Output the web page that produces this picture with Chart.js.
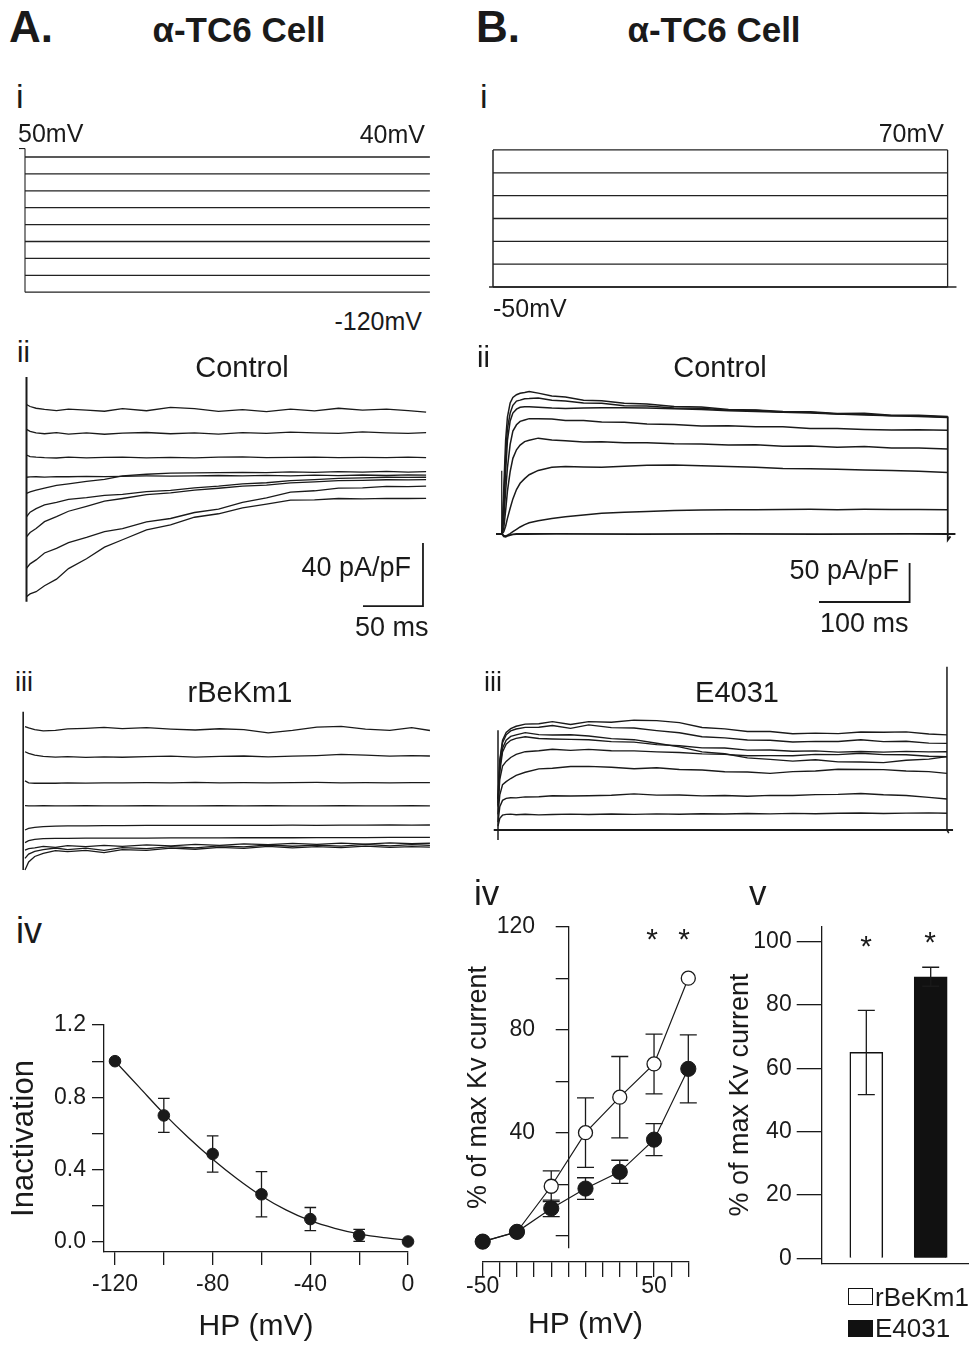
<!DOCTYPE html>
<html>
<head>
<meta charset="utf-8">
<script src="https://cdn.jsdelivr.net/npm/chart.js@4.4.1/dist/chart.umd.min.js"></script>
<style>
html,body{margin:0;padding:0;background:#fff;}
#fig{position:relative;width:974px;height:1345px;overflow:hidden;background:#fff;}
canvas{position:absolute;}
</style>
</head>
<body>
<div id="fig"></div>
<script>
// ===================== DATA =====================
// A-i protocol (mV), ms
const protoA_levels = [40, 20, 0, -20, -40, -60, -80, -100, -120];
const protoA_t = [0, 336];
const protoA_vertT = [0, 0], protoA_vertV = [50, -120];
const protoA_tickT = [-5, 0], protoA_tickV = [50, 50];
// B-i protocol
const protoB_levels = [70, 50, 30, 10, -10, -30, -50];
const protoB_t = [0, 492];
const protoB_baseT = [-4.3, 501.6];

// A-ii Control traces (pA/pF vs ms)
const tA = [0,3,8,15,25,35,50,65,80,100,120,140,160,180,200,220,240,260,280,300,318,333];
const ctrlA1 = [130.5,129.2,128.1,127.4,126.6,127.6,126.9,126.2,127.8,126.5,128.6,127.9,126.1,127.2,125.9,127.6,126.4,128.1,126.9,127.6,126.6,125.6];
const ctrlA2 = [114.7,113.4,112.5,111.9,112.6,111.7,112.4,111.6,112.3,112.7,111.9,112.5,111.7,112.6,112.1,112.9,112.4,112.1,113.1,112.5,112.2,112.6];
const ctrlA3 = [98.4,97.4,97.0,96.7,96.5,97.0,96.6,96.9,97.1,96.6,96.9,96.6,97.0,97.2,96.8,96.9,97.1,96.7,96.9,96.8,97.1,96.8];
const ctrlA4 = [84.3,84.5,84.6,84.4,84.7,84.6,84.9,84.7,84.9,85.1,85.0,85.1,85.4,85.1,85.5,85.2,85.6,85.3,85.7,85.4,85.8,85.6];
const ctrlA5 = [74.1,75.0,76.1,77.4,79.1,80.1,81.7,82.9,85.1,86.2,86.9,87.1,87.2,87.4,87.2,87.7,87.4,87.9,87.5,88.0,87.6,87.8];
const ctrlA6 = [59.2,62.1,64.4,66.7,68.3,70.2,71.3,72.8,73.4,75.1,76.0,77.6,78.6,80.1,80.8,82.1,82.8,83.6,83.9,84.3,84.2,84.3];
const ctrlA7 = [46.5,49.2,51.8,56.1,59.3,62.7,65.8,69.1,70.8,73.2,74.3,76.1,77.3,78.7,79.3,80.7,81.3,82.1,82.3,82.7,82.6,82.8];
const ctrlA8 = [26.5,29.3,31.8,36.2,39.1,42.8,46.1,49.8,51.6,55.9,58.1,61.9,64.1,68.3,71.2,74.8,75.7,77.4,77.6,78.5,78.3,78.7];
const ctrlA9 = [8.5,10.2,11.6,15.4,19.6,26.3,32.5,39.9,44.6,50.9,54.1,58.9,61.1,64.9,67.2,69.8,69.9,70.8,70.6,70.9,70.8,70.9];
const transA_t = [0, 0], transA_v = [148, 5.3];
const scaleA_t = [280.4, 330.4, 330.4], scaleA_v = [2.5, 2.5, 42.5]; // 50 ms, 40 pA/pF

// A-iii rBeKm1 traces
const rbkA1 = [86.0,85.1,84.0,83.3,83.6,84.5,84.9,85.5,84.7,85.3,84.4,83.8,84.6,84.1,82.0,83.6,85.6,86.1,84.4,83.6,85.3,83.5];
const rbkA2 = [70.0,69.0,67.8,67.0,66.6,66.9,66.4,66.8,66.5,66.9,67.2,66.6,67.0,67.3,66.8,67.2,67.6,68.3,67.9,67.2,67.5,67.3];
const rbkA3 = [51.5,50.3,50.0,50.1,50.0,50.2,50.1,50.3,50.2,50.4,50.3,50.5,50.3,50.4,50.3,50.4,50.5,50.3,50.4,50.3,50.4,50.4];
const rbkA4 = [35.8,35.6,35.6,35.7,35.6,35.6,35.7,35.6,35.6,35.7,35.6,35.6,35.7,35.6,35.7,35.6,35.6,35.7,35.6,35.6,35.7,35.6];
const rbkA5 = [20.3,21.3,22.0,22.5,22.8,23.0,23.0,23.1,23.1,23.2,23.2,23.3,23.2,23.3,23.3,23.4,23.3,23.4,23.4,23.5,23.4,23.5];
const rbkA6 = [12.3,13.5,14.4,14.8,15.0,15.0,15.1,15.1,15.2,15.2,15.3,15.3,15.3,15.4,15.4,15.4,15.5,15.5,15.5,15.6,15.6,15.6];
const rbkA7 = [7.6,8.5,9.0,9.9,9.3,10.4,9.7,10.6,9.9,10.9,10.3,11.2,10.6,11.5,11.0,11.8,11.2,12.0,11.4,12.1,11.6,11.9];
const rbkA8 = [2.3,5.0,6.8,7.8,8.9,7.9,8.8,7.4,9.1,8.5,9.8,9.0,10.3,9.6,10.8,10.0,10.7,10.1,11.2,10.3,11.0,10.6];
const rbkA9 = [-5.1,0.0,3.5,5.5,7.2,6.6,7.4,6.0,7.9,7.4,8.8,8.1,9.3,8.7,9.9,9.0,9.7,9.1,10.1,9.3,9.8,9.5];
const transA3_t = [-1.5, -1.5], transA3_v = [95.4, -5.1];

// B-ii Control traces
const tB = [0,2,4,6,9,12,16,20,25,30,40,55,70,90,110,135,160,190,220,250,280,310,340,370,400,430,460,492];
const ctrlB1 = [0,60,120,150,168,175,178.5,180.5,181.5,182.8,180.6,176.8,175.7,171.6,170.8,167.5,166.6,163.5,162.7,159.6,159.1,157.0,156.7,154.6,154.9,152.1,152.3,150.5];
const ctrlB2 = [0,45,100,135,155,165,170.4,171.6,173.5,173.6,174.5,171.4,170.6,167.9,167.6,164.5,164.1,161.4,161.2,158.5,158.6,156.0,156.1,154.0,153.6,151.6,151.5,149.6];
const ctrlB3 = [0,30,80,120,145,155,160,162.5,163,163.2,162.5,161.5,161,161.5,162,162,161.5,160.5,159.5,158,157,156,155,154,152.5,151.5,150.5,149.5];
const ctrlB4 = [0,20,55,85,115,132,140,144.4,146.1,147.9,147.6,147.4,145.6,145.4,143.6,143.4,141.1,140.4,138.6,138.9,137.6,137.4,135.1,135.4,134.1,133.4,133.7,133];
const ctrlB5 = [0,8,30,55,80,97,108,114,118.4,120.1,122.9,120.6,119.4,118.1,118.4,117.1,116.9,115.6,115.4,114.1,114.4,112.6,112.9,111.1,112.3,110.2,110.3,109];
const ctrlB6 = [0,3,10,20,33,45,57,65,71,76,81.5,85.5,86.5,86,85.5,87,88,88.5,87.5,86.5,85.5,84,83.5,83,82,81.5,80.5,79];
const ctrlB7 = [0,-2,-2.5,-1.5,0.5,3,6,9,12,14.5,17,20,22,24.5,26.5,28,29,30,30.8,31.2,31,31.4,31.6,31.2,31.6,31.3,31.5,31.2];
const baseB_t = [-6.6,0,2,4,6,9,12,16,25,60,150,250,350,450,492,500.5];
const baseB_v = [0,0,-3,-3.5,-2.5,-1.5,-0.5,0,0,0.2,-0.2,0.2,-0.1,0.1,0,0];
const startB_t = [-0.3, -0.3], startB_v = [0, 81];
const endB_t = [492, 492, 495], endB_v = [150.5, -7.7, -3];
const scaleB_t = [349.9, 449.9, 449.9], scaleB_v = [-87.2, -87.2, -37.2]; // 100 ms, 50 pA/pF

// B-iii E4031 traces
const tB3 = [0,2,5,9,14,20,30,45,60,80,100,125,150,175,200,225,250,275,300,325,350,375,400,425,450,475,495];
const e4031_1 = [5,15,19,20,20.4,19.6,20.2,19.4,19.9,20.4,19.8,20.5,20,20.7,20.2,20.9,20.5,21.1,20.7,21.3,20.9,21.5,21.7,21.1,21.6,21.9,21.4];
const e4031_2 = [10,30,38,40.5,41.3,41.2,42.4,42.6,43.9,43.6,43.9,44.6,46.3,44.7,44.9,43.7,44.2,43.2,44.4,44.2,45.4,45.7,46.8,45.2,44.3,41.8,39.7];
const e4031_3 = [20,45,58,62,66,70,74,78.4,79.1,81.4,81.6,80.4,78.6,79.9,77.6,76.9,74.6,74.4,72.6,74.9,75.6,77.9,77.6,77.4,75.6,74.9,72.6];
const e4031_4 = [30,65,82,88,93,97,100.4,101.6,103.5,102.1,103.4,101.6,101.4,100.1,99.4,97.6,96.9,95.1,95.4,95.1,96.9,96.6,98.4,96.6,96.4,94.6,94];
const e4031_5 = [40,90,115,125,130,133,135.8,136.3,138.9,135.2,138.9,138.2,140.8,140.2,137.6,131.4,129.7,126.3,126.2,123.4,124.2,123.5,125.6,125.4,125.8,123.1,122];
const e4031_6 = [40,88,112,122,127,129.5,131.6,131.8,134,130.3,134.8,131.3,130.7,127.4,124.6,119.5,118.1,115.4,115.1,112.8,113.6,113.4,115.7,113.3,113.7,111.4,111];
const e4031_7 = [35,80,105,115,120,122,124.8,122.3,121.7,122.2,120.6,117.2,115.8,111.3,106.6,100.2,97.7,92.4,90.6,88.3,90.1,87.4,87.1,86.4,89.5,90.9,94];
const e4031_8 = [32,75,100,110,115,117.5,119.6,117.4,116.7,116.2,115.7,113.3,112.6,109.4,108.1,105.3,105.1,102.4,102.5,100.9,101.5,99.8,100.6,99.9,100.8,100.1,100.4];
const baseB3_t = [-4.7, 501.7], baseB3_v = [0, 0];
const startB3_t = [0, 0], startB3_v = [-12.8, 128];
const endB3_t = [495, 495, 497], endB3_v = [209.4, 0, -4];

// A-iv inactivation
const hpA = [-120, -100, -80, -60, -40, -20, 0];
const inact = [1.0, 0.70, 0.487, 0.264, 0.127, 0.037, 0.003];
const inactErr = [0, 0.094, 0.10, 0.125, 0.064, 0.033, 0];
const fitHP = [-120,-110,-100,-90,-80,-70,-60,-50,-40,-30,-20,-10,0];
const fitInact = [1.0,0.855,0.71,0.578,0.458,0.35,0.255,0.178,0.118,0.076,0.045,0.024,0.01];
const xTicksA = [-120,-100,-80,-60,-40,-20,0];
const xLabelsA = [-120,-80,-40,0];
const yTicksA = [0,0.2,0.4,0.6,0.8,1.0,1.2];
const yLabelsA = [0,0.4,0.8,1.2];

// B-iv % of max Kv current vs voltage
const hpB = [-50, -30, -10, 10, 30, 50, 70];
const openPct = [-2.3, 1.5, 19.2, 40, 53.8, 66.7, 100];
const openErr = [0, 0, 6, 13.5, 15.8, 11.6, 0];
const filledPct = [-2.3, 1.5, 10.6, 18.3, 24.8, 37.3, 64.8];
const filledErr = [0, 0, 3.2, 4.2, 4.5, 6.2, 13.2];
const xTicksB = [-50,-40,-30,-20,-10,0,10,20,30,40,50,60,70];
const xLabelsB = [-50, 50];
const yTicksB = [0,20,40,60,80,100,120];
const yLabelsB = [40,80,120];

// B-v bars
const barCats = ['rBeKm1', 'E4031'];
const barVals = [65.0, 88.9];
const barErr = [13.3, 3.0];
const yTicksV = [0,20,40,60,80,100];

// ===================== SETUP =====================
const FONT = "'Liberation Sans', Arial, Helvetica, sans-serif";
const INK = '#1a1a1a';
Chart.defaults.font.family = FONT;
Chart.defaults.color = INK;
const fig = document.getElementById('fig');

const errorBarPlugin = {
  id: 'errorBars',
  beforeDatasetsDraw(chart) { drawErr(chart, false); },
  afterDatasetsDraw(chart) { drawErr(chart, true); }
};
function drawErr(chart, onTop) {
  const ctx = chart.ctx;
  chart.data.datasets.forEach((ds, i) => {
    if (!ds.errorBars || !!ds.errorOnTop !== onTop) return;
    const meta = chart.getDatasetMeta(i);
    const ys = chart.scales[meta.yAxisID];
    meta.data.forEach((el, j) => {
      const e = ds.errorBars[j];
      if (!e) return;
      const d = ds.data[j];
      const v = (typeof d === 'object') ? d.y : d;
      const x = el.x, yt = ys.getPixelForValue(v + e), yb = ys.getPixelForValue(v - e);
      const w = ds.capHalf || 6;
      ctx.save();
      ctx.strokeStyle = INK; ctx.lineWidth = 1.3;
      ctx.beginPath();
      ctx.moveTo(x, yt); ctx.lineTo(x, yb);
      ctx.moveTo(x - w, yt); ctx.lineTo(x + w, yt);
      ctx.moveTo(x - w, yb); ctx.lineTo(x + w, yb);
      ctx.stroke();
      ctx.restore();
    });
  });
}
Chart.register(errorBarPlugin);

function mk(left, top, w, h) {
  const c = document.createElement('canvas');
  c.width = w; c.height = h;
  c.style.left = left + 'px'; c.style.top = top + 'px';
  c.style.width = w + 'px'; c.style.height = h + 'px';
  fig.appendChild(c);
  return c;
}
function txt(s, x, base, size, o = {}) {
  const d = document.createElement('div');
  d.textContent = s;
  const align = o.align || 'left';
  const tx = align === 'center' ? '-50%' : align === 'right' ? '-100%' : '0';
  d.style.cssText = `position:absolute;left:${x}px;top:${base - 0.8465 * size}px;font-size:${size}px;line-height:1;font-family:${FONT};font-weight:${o.weight || 'normal'};color:${INK};white-space:nowrap;transform:translateX(${tx});z-index:5;`;
  fig.appendChild(d);
  return d;
}
function series(t, v, o = {}) {
  return Object.assign({
    data: t.map((x, i) => ({ x, y: v[i] })),
    borderColor: INK, borderWidth: 1.3, pointRadius: 0, fill: false,
    tension: 0, clip: false
  }, o);
}
const baseOpts = {
  responsive: false, maintainAspectRatio: false, animation: false,
  devicePixelRatio: 1, events: [],
  plugins: { legend: { display: false }, tooltip: { enabled: false } }
};
// trace panel: box in page px, map = pixel of value 0 and px per unit
function traceChart(box, map, datasets) {
  const cv = mk(box.l, box.t, box.w, box.h);
  const xMin = (box.l - map.x0) / map.kx, xMax = (box.l + box.w - map.x0) / map.kx;
  const yMin = (map.y0 - (box.t + box.h)) / map.ky, yMax = (map.y0 - box.t) / map.ky;
  return new Chart(cv, {
    type: 'line',
    data: { datasets },
    options: Object.assign({}, baseOpts, {
      layout: { padding: 0 },
      scales: {
        x: { type: 'linear', display: false, min: xMin, max: xMax },
        y: { type: 'linear', display: false, min: yMin, max: yMax }
      }
    })
  });
}

// ===================== A-i =====================
traceChart({ l: 5, t: 140, w: 440, h: 160 }, { x0: 25, kx: 1.205, y0: 190.8, ky: 0.845 }, [
  ...protoA_levels.map(L => series(protoA_t, [L, L], { borderWidth: 1.3, borderColor: '#222' })),
  series(protoA_vertT, protoA_vertV, { borderWidth: 1.1, borderColor: '#222' }),
  series(protoA_tickT, protoA_tickV, { borderWidth: 1.1, borderColor: '#222' })
]);
// ===================== B-i =====================
traceChart({ l: 480, t: 140, w: 490, h: 160 }, { x0: 493, kx: 0.924, y0: 229.9, ky: 1.142 }, [
  ...protoB_levels.map(L => series(protoB_t, [L, L], { borderWidth: 1.3, borderColor: '#222' })),
  series(protoB_baseT, [-50, -50], { borderWidth: 1.5, borderColor: '#222' }),
  series([0, 0], [-50, 70], { borderWidth: 1.5, borderColor: '#222' }),
  series([492, 492], [-50, 70], { borderWidth: 1.3, borderColor: '#222' })
]);
// ===================== A-ii =====================
traceChart({ l: 5, t: 370, w: 440, h: 275 }, { x0: 26.5, kx: 1.2, y0: 610, ky: 1.575 }, [
  ...[ctrlA1, ctrlA2, ctrlA3, ctrlA4, ctrlA5, ctrlA6, ctrlA7, ctrlA8, ctrlA9].map(v => series(tA, v)),
  series(transA_t, transA_v, { borderWidth: 2 }),
  series(scaleA_t, scaleA_v, { borderWidth: 1.8 })
]);
// ===================== A-iii =====================
traceChart({ l: 5, t: 700, w: 440, h: 180 }, { x0: 25, kx: 1.216, y0: 862, ky: 1.575 }, [
  ...[rbkA1, rbkA2, rbkA3, rbkA4, rbkA5, rbkA6, rbkA7, rbkA8, rbkA9].map(v => series(tA, v)),
  series(transA3_t, transA3_v, { borderWidth: 1.6 })
]);
// ===================== B-ii =====================
traceChart({ l: 480, t: 375, w: 490, h: 250 }, { x0: 502, kx: 0.906, y0: 534, ky: 0.78 }, [
  ...[ctrlB1, ctrlB2, ctrlB3, ctrlB4, ctrlB5, ctrlB6, ctrlB7].map(v => series(tB, v, { borderWidth: 1.5 })),
  series(baseB_t, baseB_v, { borderWidth: 1.8 }),
  series(startB_t, startB_v, { borderWidth: 1.2 }),
  series(endB_t, endB_v, { borderWidth: 1.8 }),
  series(scaleB_t, scaleB_v, { borderWidth: 1.8 })
]);
// ===================== B-iii =====================
traceChart({ l: 480, t: 655, w: 490, h: 195 }, { x0: 498, kx: 0.907, y0: 830, ky: 0.78 }, [
  ...[e4031_1, e4031_2, e4031_3, e4031_4, e4031_5, e4031_6, e4031_7, e4031_8].map(v => series(tB3, v, { borderWidth: 1.4 })),
  series(baseB3_t, baseB3_v, { borderWidth: 1.8 }),
  series(startB3_t, startB3_v, { borderWidth: 1.5 }),
  series(endB3_t, endB3_v, { borderWidth: 1.5 })
]);

// ===================== A-iv =====================
const has = (arr, v) => arr.some(a => Math.abs(a - v) < 1e-6);
new Chart(mk(0, 990, 440, 355), {
  type: 'line',
  data: {
    datasets: [
      { label: 'Inactivation', data: hpA.map((x, i) => ({ x, y: inact[i] })), showLine: false,
        pointRadius: 5.8, pointBackgroundColor: INK, pointBorderColor: INK, pointBorderWidth: 1,
        errorBars: inactErr, capHalf: 5.8, clip: false },
      { label: 'fit', data: fitHP.map((x, i) => ({ x, y: fitInact[i] })), borderColor: INK,
        borderWidth: 1.3, pointRadius: 0, cubicInterpolationMode: 'monotone', clip: false }
    ]
  },
  options: Object.assign({}, baseOpts, {
    layout: { padding: { left: 6, top: 35, right: 32, bottom: 0 } },
    scales: {
      x: {
        type: 'linear', min: -124.5, max: 0, position: 'bottom',
        afterBuildTicks: s => { s.ticks = xTicksA.map(v => ({ value: v })); },
        afterFit: s => { s.height = 93; },
        ticks: { autoSkip: false, maxRotation: 0, padding: 6, color: INK, font: { size: 23 },
                 callback: v => has(xLabelsA, v) ? String(v) : '' },
        grid: { drawOnChartArea: false, drawTicks: true, tickLength: 13, color: INK, lineWidth: 1.3 },
        border: { display: true, color: INK, width: 1.3 },
        title: { display: true, text: 'HP (mV)', color: INK, font: { size: 30 }, padding: 0 }
      },
      y: {
        type: 'linear', min: -0.055, max: 1.2,
        afterBuildTicks: s => { s.ticks = yTicksA.map(v => ({ value: v })); },
        afterFit: s => { s.width = 98; },
        ticks: { autoSkip: false, padding: 6, color: INK, font: { size: 23 },
                 callback: v => has(yLabelsA, v) ? v.toFixed(1) : '' },
        grid: { drawOnChartArea: false, drawTicks: true, tickLength: 12, color: INK, lineWidth: 1.3 },
        border: { display: true, color: INK, width: 1.3 },
        title: { display: true, text: 'Inactivation', color: INK, font: { size: 31 }, padding: 0 }
      }
    }
  })
});

// ===================== B-iv =====================
// y axis (placed at 0 mV); canvas padded so label overflow does not shrink the plot
new Chart(mk(460, 886.7, 240, 401.3), {
  type: 'line',
  data: { datasets: [] },
  options: Object.assign({}, baseOpts, {
    layout: { padding: { left: 2.8, top: 40, right: 11.7, bottom: 40 } },
    scales: {
      x: { type: 'linear', display: false, min: 0, max: 70 },
      y: {
        type: 'linear', min: -4.78, max: 120,
        afterBuildTicks: s => { s.ticks = yTicksB.map(v => ({ value: v })); },
        afterFit: s => { s.width = 105.6; },
        ticks: { autoSkip: false, padding: 20.7, color: INK, font: { size: 23 },
                 callback: v => has(yLabelsB, v) ? String(v) : '' },
        grid: { drawOnChartArea: false, drawTicks: true, tickLength: 12.7, color: INK, lineWidth: 1.3 },
        border: { display: true, color: INK, width: 1.3 },
        title: { display: true, text: '% of max Kv current', color: INK, font: { size: 27 }, padding: 0 }
      }
    }
  })
});
// data (-50..70 mV)
new Chart(mk(460, 900, 240, 360), {
  type: 'line',
  data: {
    datasets: [
      { label: 'E4031', data: hpB.map((x, i) => ({ x, y: filledPct[i] })), borderColor: INK, borderWidth: 1.2,
        pointRadius: 7.6, pointBackgroundColor: INK, pointBorderColor: INK, pointBorderWidth: 1,
        errorBars: filledErr, capHalf: 8.5, clip: false },
      { label: 'rBeKm1', data: hpB.map((x, i) => ({ x, y: openPct[i] })), borderColor: INK, borderWidth: 1.2,
        pointRadius: 7, pointBackgroundColor: '#fff', pointBorderColor: INK, pointBorderWidth: 1.3,
        errorBars: openErr, capHalf: 8.5, clip: false }
    ]
  },
  options: Object.assign({}, baseOpts, {
    layout: { padding: { left: 22.7, top: 26.7, right: 11.7, bottom: 12 } },
    scales: {
      x: { type: 'linear', display: false, min: -50, max: 70 },
      y: { type: 'linear', display: false, min: -4.78, max: 120 }
    }
  })
});
// x axis
new Chart(mk(460, 1200, 240, 145), {
  type: 'line',
  data: { datasets: [] },
  options: Object.assign({}, baseOpts, {
    layout: { padding: { left: 22.7, top: 10, right: 11.7, bottom: 0 } },
    scales: {
      x: {
        type: 'linear', min: -50, max: 70, position: 'bottom',
        afterBuildTicks: s => { s.ticks = xTicksB.map(v => ({ value: v })); },
        afterFit: s => { s.height = 83; },
        ticks: { autoSkip: false, maxRotation: 0, padding: -4, color: INK, font: { size: 23 },
                 callback: v => has(xLabelsB, v) ? String(v) : '' },
        grid: { drawOnChartArea: false, drawTicks: true, tickLength: 15, color: INK, lineWidth: 1.3 },
        border: { display: true, color: INK, width: 1.3 },
        title: { display: true, text: 'HP (mV)', color: INK, font: { size: 30 }, padding: { top: 0, bottom: 2 } }
      },
      y: { display: false, min: 0, max: 1 }
    }
  })
});

// ===================== B-v =====================
new Chart(mk(700, 900, 274, 390), {
  type: 'bar',
  data: {
    datasets: [{
      label: '% of max Kv current',
      data: barVals.map((v, i) => ({ x: i + 1, y: v })),
      backgroundColor: ['#ffffff', '#111111'], borderColor: '#111111', borderWidth: 1.5,
      barThickness: 33, errorBars: barErr, capHalf: 8.5, errorOnTop: true
    }]
  },
  options: Object.assign({}, baseOpts, {
    layout: { padding: { left: 24.8, top: 26.7, right: 5.7, bottom: 26.7 } },
    scales: {
      x: {
        type: 'linear', min: 0.307, max: 2.584, offset: false,
        afterFit: s => { s.height = 0; },
        ticks: { display: false }, grid: { display: false, drawTicks: false },
        border: { display: true, color: INK, width: 1.3 }
      },
      y: {
        type: 'linear', min: -1.58, max: 104.7,
        afterBuildTicks: s => { s.ticks = yTicksV.map(v => ({ value: v })); },
        afterFit: s => { s.width = 96.9; },
        ticks: { autoSkip: false, padding: 5, color: INK, font: { size: 23 } },
        grid: { drawOnChartArea: false, drawTicks: true, tickLength: 25, color: INK, lineWidth: 1.3 },
        border: { display: true, color: INK, width: 1.3 },
        title: { display: true, text: '% of max Kv current', color: INK, font: { size: 27 }, padding: 0 }
      }
    }
  })
});

// ===================== TEXT =====================
txt('A.', 9, 42, 44, { weight: 'bold' });
txt('\u03B1-TC6 Cell', 239, 42, 35, { weight: 'bold', align: 'center' });
txt('B.', 476, 42, 44, { weight: 'bold' });
txt('\u03B1-TC6 Cell', 714, 42, 35, { weight: 'bold', align: 'center' });

txt('i', 16, 108, 34);
txt('i', 480, 108, 34);
txt('50mV', 18, 142, 25);
txt('40mV', 425, 143, 25, { align: 'right' });
txt('-120mV', 422, 330, 25, { align: 'right' });
txt('70mV', 944, 142, 25, { align: 'right' });
txt('-50mV', 493, 317, 25);

txt('ii', 17, 363, 29);
txt('ii', 477, 368, 29);
txt('Control', 242, 378, 29, { align: 'center' });
txt('Control', 720, 378, 29, { align: 'center' });
txt('40 pA/pF', 411, 577, 27, { align: 'right' });
txt('50 ms', 355, 637, 27);
txt('50 pA/pF', 899, 580, 27, { align: 'right' });
txt('100 ms', 820, 633, 27);

txt('iii', 15, 692, 27);
txt('iii', 484, 692, 27);
txt('rBeKm1', 240, 703, 29, { align: 'center' });
txt('E4031', 737, 703, 29, { align: 'center' });

txt('iv', 16, 943, 36);
txt('iv', 474, 905, 35);
txt('v', 749, 905, 35);

txt('*', 652, 949, 30, { align: 'center' });
txt('*', 684, 949, 30, { align: 'center' });
txt('*', 866, 956, 30, { align: 'center' });
txt('*', 930, 952, 30, { align: 'center' });

// legend for B-v
function box(l, t, fill) {
  const d = document.createElement('div');
  d.style.cssText = `position:absolute;left:${l}px;top:${t}px;width:25px;height:17px;box-sizing:border-box;border:1.5px solid #111;background:${fill};z-index:5;`;
  fig.appendChild(d);
}
box(848, 1288, '#fff');
box(848, 1320, '#111');
txt(barCats[0], 875, 1306, 26);
txt(barCats[1], 875, 1337, 26);
</script>
</body>
</html>
